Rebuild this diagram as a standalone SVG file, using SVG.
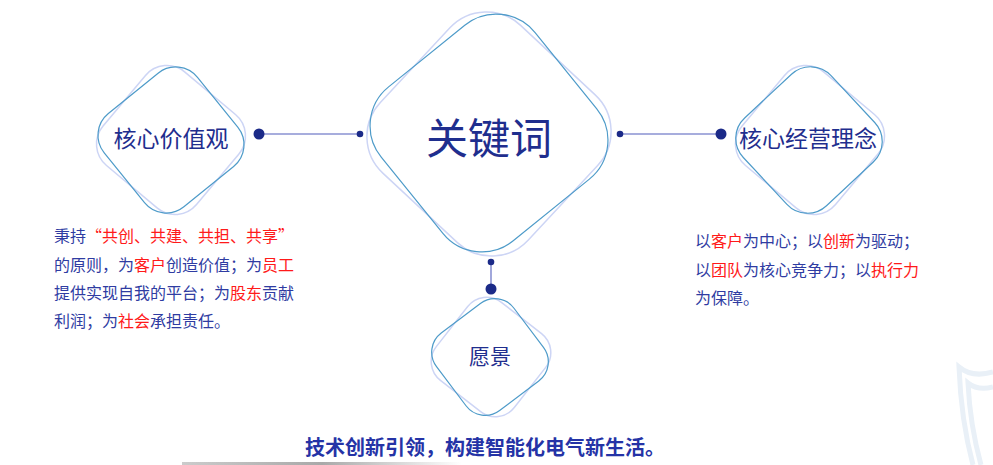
<svg xmlns="http://www.w3.org/2000/svg" width="993" height="465" viewBox="0 0 993 465">
<defs>
<style>
.teal{fill:none;stroke:#4e9bc9;stroke-width:1.2}
.lav{fill:none;stroke:#cdd5f5;stroke-width:1.5}
.ntxt{font-family:"Noto Sans CJK SC","Noto Sans",sans-serif;fill:#1f2e8e;text-anchor:middle}
.para{font-family:"Noto Sans CJK SC","Noto Sans",sans-serif;font-size:16px;fill:#2f3ca2}
.red{fill:#ff1a1a}
.line{stroke:#8a92d2;stroke-width:1.6}
.dot{fill:#1b2a88}
.shield{fill:none;stroke:#e9f0f7;stroke-width:5}
</style>
<linearGradient id="bar" x1="0" y1="0" x2="1" y2="0">
<stop offset="0" stop-color="#a9a9a9" stop-opacity="0.6"/>
<stop offset="0.5" stop-color="#a9a9a9"/>
<stop offset="1" stop-color="#a9a9a9" stop-opacity="0"/>
</linearGradient>
</defs>
<rect width="993" height="465" fill="#ffffff"/>
<g id="decor">
<path class="shield" d="M993 372 Q972 378 959 367 Q961 420 973 465"/>
<path class="shield" d="M993 387 Q978 391 968 383 Q970 425 981 465"/>
<rect x="182" y="462" width="280" height="3" fill="url(#bar)"/>
</g>
<g id="connectors">
<line class="line" x1="259" y1="134" x2="360" y2="134"/>
<circle class="dot" cx="259" cy="134" r="5.5"/>
<circle class="dot" cx="360" cy="134" r="3.3"/>
<line class="line" x1="620" y1="134" x2="721" y2="134"/>
<circle class="dot" cx="620" cy="134" r="3.3"/>
<circle class="dot" cx="721" cy="134" r="5.5"/>
<line class="line" x1="491" y1="262" x2="491" y2="289"/>
<circle class="dot" cx="491" cy="262" r="3.3"/>
<circle class="dot" cx="491" cy="289" r="5.5"/>
</g>
<g id="center-node">
<rect class="lav" x="-101" y="-101" width="202" height="202" rx="50" transform="translate(489,134) rotate(43)"/>
<rect class="teal" x="-99" y="-99" width="198" height="198" rx="50" transform="translate(489,133) rotate(51)"/>
<text class="ntxt" x="489" y="154" font-size="42">关键词</text>
</g>
<g id="node-values">
<rect class="lav" x="-61" y="-61" width="122" height="122" rx="28" transform="translate(171,140) rotate(40)"/>
<rect class="teal" x="-60" y="-60" width="120" height="120" rx="28" transform="translate(171,140) rotate(51)"/>
<text class="ntxt" x="171" y="147" font-size="23">核心价值观</text>
</g>
<g id="node-philosophy">
<rect class="lav" x="-61" y="-61" width="122" height="122" rx="28" transform="translate(810,140) rotate(40)"/>
<rect class="teal" x="-60" y="-60" width="120" height="120" rx="28" transform="translate(809,140) rotate(47)"/>
<text class="ntxt" x="808" y="147" font-size="23">核心经营理念</text>
</g>
<g id="node-vision">
<rect class="lav" x="-49.5" y="-49.5" width="99" height="99" rx="24" transform="translate(491,357) rotate(38)"/>
<rect class="teal" x="-48.5" y="-48.5" width="97" height="97" rx="24" transform="translate(490,357) rotate(53)"/>
<text class="ntxt" x="490" y="364" font-size="21">愿景</text>
</g>
<g id="text-values">
<text class="para" x="54" y="242">秉持<tspan class="red">“共创、共建、共担、共享”</tspan></text>
<text class="para" x="54" y="270.5">的原则，为<tspan class="red">客户</tspan>创造价值；为<tspan class="red">员工</tspan></text>
<text class="para" x="54" y="299">提供实现自我的平台；为<tspan class="red">股东</tspan>贡献</text>
<text class="para" x="54" y="327">利润；为<tspan class="red">社会</tspan>承担责任。</text>
</g>
<g id="text-philosophy">
<text class="para" x="695" y="246.5">以<tspan class="red">客户</tspan>为中心；以<tspan class="red">创新</tspan>为驱动；</text>
<text class="para" x="695" y="275.5">以<tspan class="red">团队</tspan>为核心竞争力；以<tspan class="red">执行力</tspan></text>
<text class="para" x="695" y="303.5">为保障。</text>
</g>
<g id="tagline">
<text x="305" y="455" font-family="Noto Sans CJK SC, Noto Sans, sans-serif" font-size="20" font-weight="bold" fill="#2533a6">技术创新引领，构建智能化电气新生活。</text>
</g>
</svg>
